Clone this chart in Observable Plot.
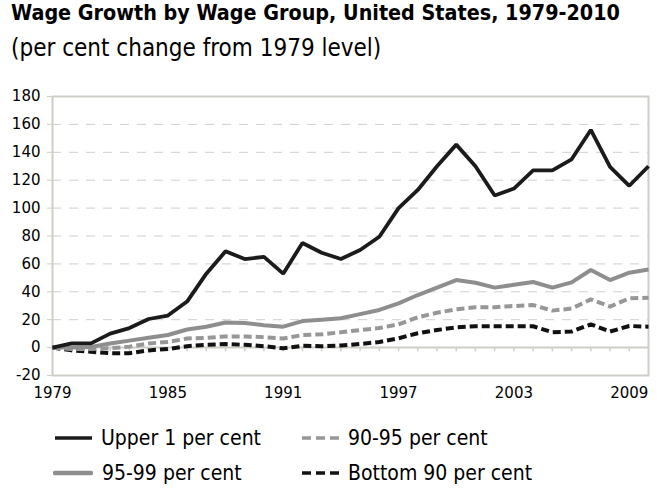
<!DOCTYPE html>
<html>
<head>
<meta charset="utf-8">
<script src="https://cdn.jsdelivr.net/npm/d3@7"></script>
<script src="https://cdn.jsdelivr.net/npm/@observablehq/plot@0.6"></script>
<style>
  html, body { margin: 0; padding: 0; background: #fff; }
  #wrap { position: relative; width: 660px; height: 495px; font-family: "DejaVu Sans Condensed", "DejaVu Sans", sans-serif; color: #000; }
  #title { position: absolute; left: 11px; top: 0px; font-size: 22px; font-weight: bold; white-space: nowrap; transform: scaleX(0.97); transform-origin: 0 0; }
  #subtitle { position: absolute; left: 11px; top: 34px; font-size: 24px; white-space: nowrap; }
  #chart { position: absolute; left: 0; top: 80px; }
  .leg { position: absolute; display: flex; align-items: center; height: 24px; font-size: 21px; white-space: nowrap; }
  .leg svg { display: block; }
</style>
</head>
<body>
<div id="wrap">
  <div id="title">Wage Growth by Wage Group, United States, 1979-2010</div>
  <div id="subtitle">(per cent change from 1979 level)</div>
  <div id="chart"></div>
  <div id="legend"></div>
</div>
<script>
const years = d3.range(1979, 2011);
const upper1 = [0, 3, 3, 10, 14, 20.5, 23, 33, 53, 69, 63.5, 65, 53, 75, 68, 63.5, 70, 79.5, 100, 113, 130, 145.5, 130, 109, 114, 127, 127, 135, 156, 129.5, 116, 130];
const p95_99 = [0, 0, 0.5, 3, 5, 7, 9, 13, 15, 18, 17.7, 16, 15, 19, 20, 21, 24, 27, 31.7, 37.7, 43, 48.4, 46.5, 43, 45, 47, 43, 46.8, 55.6, 48.4, 53.7, 56];
const p90_95 = [0, -1, -1, -0.5, 0.7, 3, 4, 6.5, 7, 8, 8, 7.5, 6.5, 9, 9.5, 11, 12.6, 14, 16.7, 21.7, 25, 27.4, 29, 29, 29.8, 30.5, 26.5, 28, 34.6, 29.4, 35.3, 35.8];
const bottom90 = [0, -2, -3, -4, -4, -2, -1, 1, 2, 2.5, 2, 1, -0.5, 1.3, 1, 1.5, 2.6, 4, 6.7, 10.3, 12.6, 14.5, 15.3, 15.3, 15.3, 15.3, 11, 11.5, 16.7, 11.5, 15.5, 15];
const seriesNames = ["Upper 1 per cent", "95-99 per cent", "90-95 per cent", "Bottom 90 per cent"];
const yTicks = d3.range(-20, 181, 20);
const gridTicks = d3.range(20, 161, 20);
const xTickLabels = [1979, 1985, 1991, 1997, 2003, 2009];

const toRows = (vals) => years.map((y, i) => ({year: y, value: vals[i]}));
const frameColor = "#cfcdc8";

const styles = {
  "Upper 1 per cent": {stroke: "#1b1b1b", strokeWidth: 3.8, dash: null},
  "95-99 per cent": {stroke: "#8e8e8e", strokeWidth: 4, dash: null},
  "90-95 per cent": {stroke: "#979797", strokeWidth: 4, dash: "8,4"},
  "Bottom 90 per cent": {stroke: "#111", strokeWidth: 4, dash: "8,4"}
};
const seriesData = {
  "Upper 1 per cent": toRows(upper1),
  "95-99 per cent": toRows(p95_99),
  "90-95 per cent": toRows(p90_95),
  "Bottom 90 per cent": toRows(bottom90)
};

const lineMark = (name) => Plot.line(seriesData[name], {
  x: "year", y: "value",
  stroke: styles[name].stroke,
  strokeWidth: styles[name].strokeWidth,
  strokeDasharray: styles[name].dash,
  strokeLinejoin: "miter",
  strokeLinecap: "butt"
});

const chart = Plot.plot({
  width: 660,
  height: 335,
  marginTop: 16,
  marginBottom: 40,
  marginLeft: 52,
  marginRight: 12,
  style: {fontFamily: "DejaVu Sans, sans-serif", fontSize: "15px", color: "#000", background: "#fff", overflow: "visible"},
  x: {domain: [1979, 2010], label: null},
  y: {domain: [-20, 180], label: null},
  marks: [
    Plot.ruleY(gridTicks, {stroke: "#cfcfcf", strokeWidth: 1, strokeDasharray: "9,8"}),
    Plot.ruleX(years.slice(1, -1), {x: d => d, y1: 0, y2: -3, stroke: frameColor, strokeWidth: 1.5}),
    Plot.ruleY([0], {stroke: frameColor, strokeWidth: 2}),
    Plot.frame({stroke: frameColor, strokeWidth: 2}),
    Plot.axisY({ticks: yTicks, tickSize: 5, tickPadding: 7, stroke: frameColor, tickFormat: d => String(d), fill: "#000", fontSize: 15, label: null}),
    Plot.axisX({ticks: xTickLabels, tickSize: 0, tickPadding: 12, tickFormat: d => String(d), fill: "#000", fontSize: 15, label: null}),
    lineMark("Bottom 90 per cent"),
    lineMark("90-95 per cent"),
    lineMark("95-99 per cent"),
    lineMark("Upper 1 per cent")
  ]
});
document.getElementById("chart").appendChild(chart);

// Legend
const legendPos = {
  "Upper 1 per cent": [55, 426],
  "90-95 per cent": [302, 426],
  "95-99 per cent": [53, 461],
  "Bottom 90 per cent": [302, 461]
};
const legend = document.getElementById("legend");
seriesNames.forEach(name => {
  const s = styles[name];
  const isRound = name === "95-99 per cent";
  const div = document.createElement("div");
  div.className = "leg";
  div.style.left = legendPos[name][0] + "px";
  div.style.top = legendPos[name][1] + "px";
  const w = isRound ? 40 : 37;
  const svg = d3.create("svg").attr("width", w).attr("height", 20).style("margin-right", "9px");
  svg.append("line")
    .attr("x1", isRound ? 2 : 0).attr("x2", isRound ? w - 2 : w)
    .attr("y1", 10).attr("y2", 10)
    .attr("stroke", s.stroke)
    .attr("stroke-width", isRound ? 4.5 : 3.5)
    .attr("stroke-linecap", isRound ? "round" : "butt")
    .attr("stroke-dasharray", s.dash ? "9,5" : null);
  div.appendChild(svg.node());
  const span = document.createElement("span");
  span.textContent = name;
  div.appendChild(span);
  legend.appendChild(div);
});
</script>
</body>
</html>
